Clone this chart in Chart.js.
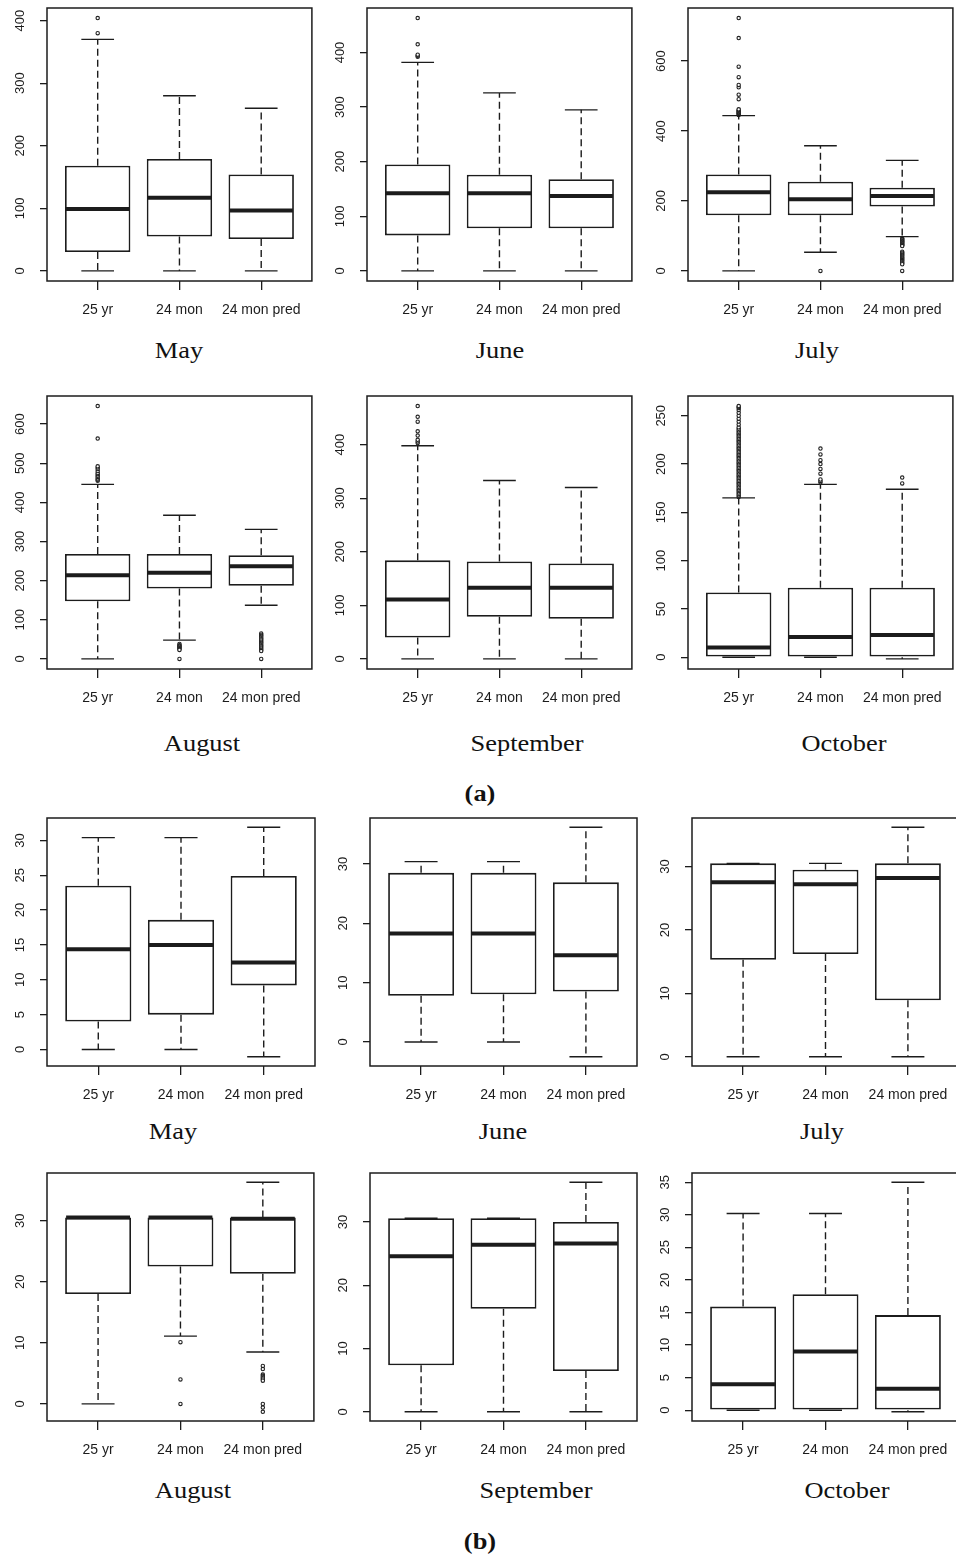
<!DOCTYPE html>
<html>
<head>
<meta charset="utf-8">
<script src="https://cdn.jsdelivr.net/npm/chart.js@4.4.1/dist/chart.umd.min.js"></script>
<style>
  html, body { margin: 0; padding: 0; background: #fff; }
  body { width: 956px; height: 1560px; position: relative; overflow: hidden; }
  canvas { position: absolute; }
  .title {
    position: absolute;
    font-family: 'Liberation Serif', 'Times New Roman', serif;
    font-size: 24px;
    color: #111;
    white-space: nowrap;
    transform: translate(-50%, -50%) scaleX(1.1);
  }
  .tag { font-weight: bold; }
</style>
</head>
<body>
<script>
// categories on every x axis
const categories = ['25 yr', '24 mon', '24 mon pred'];
const months = ['May', 'June', 'July', 'August', 'September', 'October'];

// (a) box stats per month, one value per category
const aLow  = [[0, 0, 0], [0, 0, 0], [0, 53.5, 98], [0, 48, 137], [0, 0, 0], [0, 0, -1.7]];
const aQ1   = [[30, 55, 51], [65, 78, 78], [159, 159, 184], [147, 180, 187], [40, 78.5, 75], [0, 0, 0]];
const aMed  = [[99, 117, 96.5], [142, 142, 137], [225, 205, 214], [214, 220, 237], [111, 133, 133], [10, 21, 23]];
const aQ3   = [[168, 179, 154], [195, 176, 168], [276, 255, 238], [268, 268, 265], [184, 182, 178], [67, 72, 72]];
const aHigh = [[370, 280, 260], [382, 326, 295], [444, 358, 316], [446, 367, 331], [398, 333, 320], [165, 179, 174]];
const aOut = [
  [[380, 404], [], []],
  [[392, 394, 396, 415, 463], [], []],
  [[446, 448, 450, 452, 454, 456, 458, 460, 462, 491, 504, 525, 532, 554, 584, 666, 723], [0],
   [93, 91, 89, 87, 85, 83, 81, 79, 77, 75, 73, 71, 55, 52, 49, 46, 43, 40, 37, 34, 31, 28, 25, 22, 19, 0]],
  [[455, 458, 461, 465, 468, 472, 475, 480, 485, 489, 492, 563, 646], [38, 35, 33, 31, 29, 27, 25, 23, 0],
   [65, 62, 59, 56, 53, 50, 47, 44, 41, 38, 35, 32, 29, 26, 23, 20, 0]],
  [[403, 406, 409, 417, 425, 443, 452, 472], [], []],
  [[166, 167.5, 169, 170.5, 172, 173.5, 175, 176.5, 178, 179.5, 181, 182.5, 184, 185.5, 187, 188.5, 190,
    191.5, 193, 194.5, 196, 197.5, 199, 200.5, 202, 203.5, 205, 206.5, 208, 209.5, 211, 212.5, 214,
    215.5, 217, 218.5, 220, 221.5, 223, 224.5, 226, 227.5, 229, 230.5, 232, 233.5, 235, 236.5, 238,
    241, 244, 247, 250, 253, 256, 258, 259, 260],
   [181, 182.5, 184, 190, 195, 200, 204, 210, 216], [180, 186]]
];
const aTicks = [
  [0, 100, 200, 300, 400], [0, 100, 200, 300, 400], [0, 200, 400, 600],
  [0, 100, 200, 300, 400, 500, 600], [0, 100, 200, 300, 400], [0, 50, 100, 150, 200, 250]
];

// (b) box stats per month
const bLow  = [[0, 0, -1.05], [0, 0, -2.5], [0, 0, 0], [0, 11.1, 8.5], [0, 0, 0], [0, 0, -0.25]];
const bQ1   = [[4, 5, 9.2], [7.8, 8.05, 8.5], [15.3, 16.2, 8.9], [18, 22.5, 21.3], [7.35, 16.3, 6.45], [0, 0, 0]];
const bMed  = [[14.4, 15, 12.5], [18.3, 18.3, 14.6], [27.5, 27.2, 28.2], [30.5, 30.5, 30.3], [24.6, 26.4, 26.6], [4, 9, 3.3]];
const bQ3   = [[23.5, 18.6, 24.9], [28.5, 28.5, 26.9], [30.5, 29.5, 30.5], [30.5, 30.5, 30.5], [30.6, 30.6, 30], [15.9, 17.8, 14.6]];
const bHigh = [[30.4, 30.4, 31.9], [30.4, 30.4, 36.2], [30.5, 30.5, 36.2], [30.5, 30.5, 36.3], [30.6, 30.6, 36.3], [30.2, 30.2, 35]];
const bOut = [
  [[], [], []], [[], [], []], [[], [], []],
  [[], [10.1, 4, 0], [6.2, 5.7, 4.8, 4.6, 4.4, 4.2, 4, 3.8, 0, -0.6, -1.3]],
  [[], [], []], [[], [], []]
];
const bTicks = [
  [0, 5, 10, 15, 20, 25, 30], [0, 10, 20, 30], [0, 10, 20, 30],
  [0, 10, 20, 30], [0, 10, 20, 30], [0, 5, 10, 15, 20, 25, 30, 35]
];

// page layout: plot frame left, top, width, height
const framesA = [[47, 8, 266, 273], [367, 8, 266, 273], [688, 8, 266, 273],
                 [47, 396, 266, 273], [367, 396, 266, 273], [688, 396, 266, 273]];
const framesB = [[47, 818, 268, 248], [370, 818, 267, 248], [692, 818, 267, 248],
                 [47, 1173, 268, 248], [370, 1173, 267, 248], [692, 1173, 267, 248]];
const titlePosA = [[179, 350], [500, 350], [817, 350], [202, 743], [527, 743], [844, 743]];
const titlePosB = [[173, 1131], [503, 1131], [822, 1131], [193, 1490], [536, 1490], [847, 1490]];

const INK = '#1c1c1c';
const SANS = "'Liberation Sans', Arial, sans-serif";

// whiskers, staples, medians and the frame, drawn through the chart scales
const boxPlot = {
  id: 'boxPlot',
  afterDatasetsDraw(chart, args, opts) {
    const { ctx, chartArea, scales: { x, y } } = chart;
    const bars = chart.getDatasetMeta(0).data;
    const seg = (x1, y1, x2, y2) => {
      ctx.beginPath(); ctx.moveTo(x1, y1); ctx.lineTo(x2, y2); ctx.stroke();
    };
    ctx.save();
    ctx.strokeStyle = INK;
    opts.stats.forEach((s, i) => {
      const cx = x.getPixelForValue(i + 1);
      const half = bars[i].width / 2;
      const yLow = y.getPixelForValue(s.low), yHigh = y.getPixelForValue(s.high);
      ctx.lineWidth = 1.4;
      ctx.setLineDash([7, 4]);
      seg(cx, y.getPixelForValue(s.q3), cx, yHigh);
      seg(cx, y.getPixelForValue(s.q1), cx, yLow);
      ctx.setLineDash([]);
      seg(cx - half / 2, yHigh, cx + half / 2, yHigh);
      seg(cx - half / 2, yLow, cx + half / 2, yLow);
      ctx.lineWidth = 4;
      const ym = y.getPixelForValue(s.med);
      seg(cx - half + 1, ym, cx + half - 1, ym);
    });
    ctx.lineWidth = 1.5;
    ctx.strokeRect(chartArea.left, chartArea.top, chartArea.width, chartArea.height);
    ctx.restore();
  }
};

function makePanel(frame, low, q1, med, q3, high, out, ticks) {
  const [fl, ft, fw, fh] = frame;
  const padTop = 6, padRight = 4, yW = 47, xH = 48;
  const canvas = document.createElement('canvas');
  canvas.width = fw + yW + padRight;
  canvas.height = fh + padTop + xH;
  canvas.style.left = (fl - yW) + 'px';
  canvas.style.top = (ft - padTop) + 'px';
  canvas.style.width = canvas.width + 'px';
  canvas.style.height = canvas.height + 'px';
  document.body.appendChild(canvas);

  const stats = categories.map((c, i) => ({ low: low[i], q1: q1[i], med: med[i], q3: q3[i], high: high[i] }));
  // R-style limits: data range extended by 4% on each side
  const all = low.concat(high, ...out);
  const lo = Math.min(...all), hi = Math.max(...all);
  const ext = (hi - lo) * 0.04;
  const longest = Math.max(...ticks.map(t => String(t).length));

  const points = [];
  out.forEach((vals, i) => vals.forEach(v => points.push({ x: i + 1, y: v })));

  new Chart(canvas, {
    type: 'bar',
    data: {
      datasets: [{
        type: 'bar',
        data: stats.map((s, i) => ({ x: i + 1, y: [s.q1, s.q3] })),
        backgroundColor: '#fff',
        borderColor: INK,
        borderWidth: 1.8,
        borderSkipped: false,
        barPercentage: 0.8,
        categoryPercentage: 1
      }, {
        type: 'scatter',
        data: points,
        pointRadius: 1.7,
        pointBorderWidth: 1.1,
        borderColor: '#222',
        backgroundColor: '#fff',
        showLine: false
      }]
    },
    options: {
      responsive: false,
      animation: false,
      events: [],
      layout: { padding: { left: 0, top: padTop, right: padRight, bottom: 0 } },
      plugins: { legend: { display: false }, tooltip: { enabled: false }, boxPlot: { stats } },
      scales: {
        x: {
          type: 'linear', min: 0.38, max: 3.62, offset: false,
          afterBuildTicks: ax => { ax.ticks = [1, 2, 3].map(v => ({ value: v })); },
          afterFit: ax => { ax.height = xH; ax.paddingLeft = 0; ax.paddingRight = 0; },
          border: { display: false },
          grid: { offset: false, drawOnChartArea: false, tickLength: 9, color: INK, lineWidth: 1.3 },
          ticks: {
            autoSkip: false, minRotation: 0, maxRotation: 0, padding: 12, color: INK,
            font: { family: SANS, size: 14 },
            callback: v => categories[Math.round(v) - 1]
          }
        },
        y: {
          type: 'linear', min: lo - ext, max: hi + ext,
          afterBuildTicks: ax => { ax.ticks = ticks.map(v => ({ value: v })); },
          afterFit: ax => { ax.width = yW; ax.paddingTop = 0; ax.paddingBottom = 0; },
          border: { display: false },
          grid: { offset: false, drawOnChartArea: false, tickLength: 7, color: INK, lineWidth: 1.3 },
          ticks: {
            autoSkip: false, minRotation: 90, maxRotation: 90, crossAlign: 'center',
            padding: 20 - longest * 3.6, color: INK,
            font: { family: SANS, size: 13 }
          }
        }
      }
    },
    plugins: [boxPlot]
  });
}

function addTitle(text, pos, cls) {
  const d = document.createElement('div');
  d.className = 'title' + (cls ? ' ' + cls : '');
  d.textContent = text;
  d.style.left = pos[0] + 'px';
  d.style.top = pos[1] + 'px';
  document.body.appendChild(d);
}

months.forEach((m, i) => {
  makePanel(framesA[i], aLow[i], aQ1[i], aMed[i], aQ3[i], aHigh[i], aOut[i], aTicks[i]);
  addTitle(m, titlePosA[i]);
  makePanel(framesB[i], bLow[i], bQ1[i], bMed[i], bQ3[i], bHigh[i], bOut[i], bTicks[i]);
  addTitle(m, titlePosB[i]);
});
addTitle('(a)', [480, 793], 'tag');
addTitle('(b)', [480, 1541], 'tag');
</script>
</body>
</html>
